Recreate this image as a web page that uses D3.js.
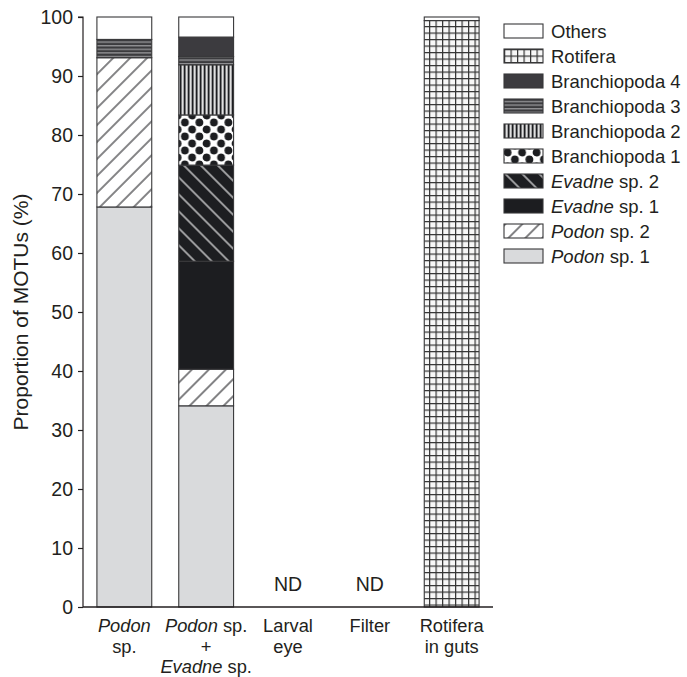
<!DOCTYPE html>
<html>
<head>
<meta charset="utf-8">
<script src="https://cdn.jsdelivr.net/npm/d3@7/dist/d3.min.js"></script>
<style>
  body { margin: 0; background: #fff; }
  text { font-family: "Liberation Sans", Arial, Helvetica, sans-serif; fill: #231f20; }
</style>
</head>
<body>
<svg id="chart" width="687" height="677"></svg>
<script>
// Sample types along the x axis (text between * is set in italics)
const categories = ["Podon sp.", "Podon sp. + Evadne sp.", "Larval eye", "Filter", "Rotifera in guts"];
const categoryLines = [
  ["*Podon*", "sp."],
  ["*Podon* sp.", "+", "*Evadne* sp."],
  ["Larval", "eye"],
  ["Filter"],
  ["Rotifera", "in guts"]
];
const notDetected = [false, false, true, true, false];

// MOTU groups, stacked bottom to top
const seriesKeys = ["podon1", "podon2", "evadne1", "evadne2", "branch1", "branch2", "branch3", "branch4", "rotifera", "others"];
const seriesLabels = ["*Podon* sp. 1", "*Podon* sp. 2", "*Evadne* sp. 1", "*Evadne* sp. 2",
  "Branchiopoda 1", "Branchiopoda 2", "Branchiopoda 3", "Branchiopoda 4", "Rotifera", "Others"];

// Proportion of MOTUs (%) per sample type, one array per group
const podon1   = [67.8, 34.1, 0, 0, 0];
const podon2   = [25.3, 6.2, 0, 0, 0];
const evadne1  = [0, 18.3, 0, 0, 0];
const evadne2  = [0, 16.3, 0, 0, 0];
const branch1  = [0, 8.5, 0, 0, 0];
const branch2  = [0, 8.5, 0, 0, 0];
const branch3  = [3.1, 1.4, 0, 0, 0];
const branch4  = [0, 3.3, 0, 0, 0];
const rotifera = [0, 0, 0, 0, 99.4];
const others   = [3.8, 3.4, 0, 0, 0.6];

const yTicks = [0, 10, 20, 30, 40, 50, 60, 70, 80, 90, 100];
const yLabel = "Proportion of MOTUs (%)";

const seriesValues = { podon1, podon2, evadne1, evadne2, branch1, branch2, branch3, branch4, rotifera, others };
const table = categories.map((c, i) => {
  const row = { category: c };
  seriesKeys.forEach(k => { row[k] = seriesValues[k][i]; });
  return row;
});

const svg = d3.select("#chart");
const plotLeft = 83, plotRight = 493, plotTop = 17, plotBottom = 607;

const x = d3.scaleBand().domain(categories).range([plotLeft, plotRight])
  .paddingInner(0.33).paddingOuter(0.17);
const y = d3.scaleLinear().domain([0, 100]).range([plotBottom, plotTop]);

// ---- fill patterns ----
const defs = svg.append("defs");
const ink = "#1d1e21";

// Podon sp. 2: thin "/" hatching on white
let p = defs.append("pattern").attr("id", "pat-podon2").attr("patternUnits", "userSpaceOnUse")
  .attr("width", 12).attr("height", 12).attr("patternTransform", "rotate(45)");
p.append("rect").attr("width", 12).attr("height", 12).attr("fill", "#fff");
p.append("line").attr("x1", 1).attr("y1", 0).attr("x2", 1).attr("y2", 12).attr("stroke", ink).attr("stroke-width", 1.1);

// Evadne sp. 2: white "\" lines on black
p = defs.append("pattern").attr("id", "pat-evadne2").attr("patternUnits", "userSpaceOnUse")
  .attr("width", 12).attr("height", 12).attr("patternTransform", "rotate(-45)");
p.append("rect").attr("width", 12).attr("height", 12).attr("fill", ink);
p.append("line").attr("x1", 1).attr("y1", 0).attr("x2", 1).attr("y2", 12).attr("stroke", "#fff").attr("stroke-width", 1.1);

// Branchiopoda 1: staggered black dots
p = defs.append("pattern").attr("id", "pat-branch1").attr("patternUnits", "userSpaceOnUse")
  .attr("width", 14.5).attr("height", 14);
p.append("rect").attr("width", 14.5).attr("height", 14).attr("fill", "#fff");
[[3.6, 3.5], [10.9, 10.5], [18.1, 3.5], [-3.6, 10.5], [3.6, 17.5], [10.9, -3.5]].forEach(([cx, cy]) =>
  p.append("circle").attr("cx", cx).attr("cy", cy).attr("r", 3.9).attr("fill", ink));

// Branchiopoda 2: fine vertical stripes
p = defs.append("pattern").attr("id", "pat-branch2").attr("patternUnits", "userSpaceOnUse")
  .attr("width", 4).attr("height", 4);
p.append("rect").attr("width", 4).attr("height", 4).attr("fill", "#8e8e90");
p.append("rect").attr("x", 0).attr("width", 1.2).attr("height", 4).attr("fill", ink);
p.append("rect").attr("x", 2.2).attr("width", 1).attr("height", 4).attr("fill", "#f4f4f4");

// Branchiopoda 3: horizontal grey/dark stripes
p = defs.append("pattern").attr("id", "pat-branch3").attr("patternUnits", "userSpaceOnUse")
  .attr("width", 4).attr("height", 3.6);
p.append("rect").attr("width", 4).attr("height", 3.6).attr("fill", "#3b3b3e");
p.append("rect").attr("y", 1.8).attr("width", 4).attr("height", 1.4).attr("fill", "#909093");

// Rotifera: square grid
p = defs.append("pattern").attr("id", "pat-rotifera").attr("patternUnits", "userSpaceOnUse")
  .attr("width", 6.5).attr("height", 6.5);
p.append("rect").attr("width", 6.5).attr("height", 6.5).attr("fill", "#f7f7f7");
p.append("rect").attr("x", 0).attr("y", 0).attr("width", 1.2).attr("height", 6.5).attr("fill", "#333");
p.append("rect").attr("x", 0).attr("y", 0).attr("width", 6.5).attr("height", 1.2).attr("fill", "#333");

const fills = {
  podon1: "#d9dadc",
  podon2: "url(#pat-podon2)",
  evadne1: "#1c1d20",
  evadne2: "url(#pat-evadne2)",
  branch1: "url(#pat-branch1)",
  branch2: "url(#pat-branch2)",
  branch3: "url(#pat-branch3)",
  branch4: "#3c3b3f",
  rotifera: "url(#pat-rotifera)",
  others: "#ffffff"
};

// ---- stacked bars ----
const stacked = d3.stack().keys(seriesKeys)(table);
svg.append("g").selectAll("g.layer")
  .data(stacked).join("g").attr("class", "layer")
  .attr("fill", d => fills[d.key])
  .selectAll("rect")
  .data(d => d.filter(s => s[1] - s[0] > 0))
  .join("rect")
  .attr("x", d => x(d.data.category))
  .attr("width", x.bandwidth())
  .attr("y", d => y(d[1]))
  .attr("height", d => y(d[0]) - y(d[1]))
  .attr("stroke", "#38383a")
  .attr("stroke-width", 1.1);

// ---- rich text helper: segments between * are italic ----
function rich(sel, str) {
  str.split("*").forEach((part, i) => {
    if (!part) return;
    sel.append("tspan").attr("font-style", i % 2 ? "italic" : "normal").text(part);
  });
}

// ---- axes ----
const yAxis = d3.axisLeft(y).tickValues(yTicks).tickSize(5).tickPadding(5).tickFormat(d3.format("d"));
const gy = svg.append("g").attr("transform", `translate(${plotLeft},0)`).call(yAxis);
gy.select(".domain").attr("stroke", "#231f20").attr("stroke-width", 1.2).attr("d", `M-5,${y(100)}H0V${y(0)}`);
gy.selectAll(".tick line").attr("stroke", "#231f20").attr("stroke-width", 1.2);
gy.selectAll(".tick text").attr("font-size", 19.5).attr("font-family", "Liberation Sans, Arial, sans-serif").attr("fill", "#231f20");

svg.append("line")
  .attr("x1", plotLeft).attr("x2", plotRight)
  .attr("y1", y(0)).attr("y2", y(0))
  .attr("stroke", "#231f20").attr("stroke-width", 1.4);

svg.append("text")
  .attr("transform", `translate(28,${(y(0) + y(100)) / 2}) rotate(-90)`)
  .attr("text-anchor", "middle")
  .attr("font-size", 21)
  .text(yLabel);

// category labels: one text block per sample type, one tspan line each
const catG = svg.append("g").attr("font-size", 18.3).attr("text-anchor", "middle");
categories.forEach((c, i) => {
  const cx = x(c) + x.bandwidth() / 2;
  const block = catG.append("text").attr("x", cx).attr("y", 632);
  categoryLines[i].forEach((line, j) => {
    const ln = block.append("tspan").attr("x", cx).attr("dy", j === 0 ? 0 : 20.5);
    rich(ln, line);
  });
  if (notDetected[i]) {
    svg.append("text").attr("x", cx).attr("y", 591).attr("text-anchor", "middle")
      .attr("font-size", 19.5).text("ND");
  }
});

// ---- legend ----
const legendOrder = seriesKeys.map((k, i) => i).reverse();
const lg = svg.append("g").attr("transform", "translate(504,24)");
legendOrder.forEach((idx, r) => {
  const row = lg.append("g").attr("transform", `translate(0,${r * 25})`);
  row.append("rect").attr("width", 39).attr("height", 14)
    .attr("fill", fills[seriesKeys[idx]]).attr("stroke", "#38383a").attr("stroke-width", 1.1);
  const t = row.append("text").attr("x", 47).attr("y", 13.5).attr("font-size", 18.5);
  rich(t, seriesLabels[idx]);
});
</script>
</body>
</html>
